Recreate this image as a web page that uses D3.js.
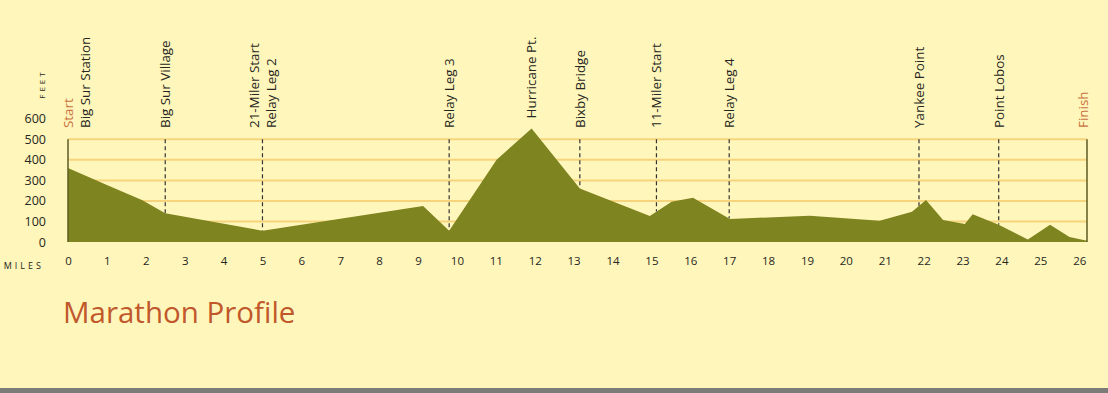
<!DOCTYPE html>
<html>
<head>
<meta charset="utf-8">
<script src="https://cdn.jsdelivr.net/npm/d3@7"></script>
<style>
  html, body { margin: 0; padding: 0; background: #fff6bb; }
  #chart { width: 1108px; height: 393px; overflow: hidden; }
  text { font-family: "Open Sans", Roboto, sans-serif; }
</style>
</head>
<body>
<div id="chart"></div>
<script>
// データ
const miles = [0, 1, 1.9, 2.5, 5.0, 9.13, 9.8, 11.02, 11.92, 13.16, 14.96, 15.52, 16.07, 17.02, 19.07, 20.87, 21.7, 22.06, 22.5, 23.06, 23.26, 23.93, 24.68, 25.25, 25.75, 26.2];
const elevation = [360, 278, 204, 140, 55, 175, 55, 400, 553, 261, 127, 196, 216, 112, 128, 104, 147, 204, 107, 88, 135, 84, 12, 84, 24, 6];

const waypointMiles = [2.5, 5.0, 9.8, 11.92, 13.16, 15.13, 17.0, 21.88, 23.93];
const waypointNames = [["Big Sur Village"], ["21-Miler Start", "Relay Leg 2"], ["Relay Leg 3"], ["Hurricane Pt."],
  ["Bixby Bridge"], ["11-Miler Start"], ["Relay Leg 4"], ["Yankee Point"], ["Point Lobos"]];
const dashedWaypoints = [true, true, true, false, true, true, true, true, true];

const mileTicks = d3.range(0, 27);
const feetTicks = [0, 100, 200, 300, 400, 500, 600];
const gridFeet = [100, 200, 300, 400, 500];
const raceLength = 26.2;

// 設定
const W = 1108, H = 393;
const colors = { fill: "#7e8420", grid: "#f6d47c", text: "#262622", accent: "#c96f3e", title: "#c0582b", edge: "#5e5a22" };
const labelSize = 13.4;

const svg = d3.select("#chart").append("svg")
    .attr("width", W)
    .attr("height", H);

svg.append("rect").attr("width", W).attr("height", H).attr("fill", "#fff6bb");
svg.append("rect").attr("x", 0).attr("y", 388).attr("width", W).attr("height", 5).attr("fill", "#7b7b78");

const x = d3.scaleLinear().domain([0, raceLength]).range([68, 1087]);
const y = d3.scaleLinear().domain([0, 500]).range([242, 139.3]);

const profile = miles.map((m, i) => ({ mile: m, elev: elevation[i] }));
const elevAt = m => {
    const i = d3.bisector(d => d.mile).left(profile, m);
    if (i <= 0) return profile[0].elev;
    if (i >= profile.length) return profile[profile.length - 1].elev;
    const a = profile[i - 1], b = profile[i];
    return a.elev + (b.elev - a.elev) * (m - a.mile) / (b.mile - a.mile);
};

// グリッド線
svg.append("g").selectAll("line")
    .data(gridFeet)
    .join("line")
    .attr("x1", x(0)).attr("x2", x(raceLength))
    .attr("y1", d => y(d)).attr("y2", d => y(d))
    .attr("stroke", colors.grid)
    .attr("stroke-width", 2);

// 破線（地点）
svg.append("g").selectAll("line")
    .data(waypointMiles.filter((m, i) => dashedWaypoints[i]))
    .join("line")
    .attr("x1", d => x(d)).attr("x2", d => x(d))
    .attr("y1", y(500)).attr("y2", d => y(elevAt(d)))
    .attr("stroke", "#333")
    .attr("stroke-width", 1.2)
    .attr("stroke-dasharray", "4,3");

// 標高プロファイル
const area = d3.area()
    .x(d => x(d.mile))
    .y0(y(0))
    .y1(d => y(d.elev));

svg.append("path")
    .datum(profile)
    .attr("fill", colors.fill)
    .attr("d", area);

// スタート・フィニッシュの縦線
svg.append("g").selectAll("line")
    .data([0, raceLength])
    .join("line")
    .attr("x1", d => x(d)).attr("x2", d => x(d))
    .attr("y1", y(500)).attr("y2", y(0))
    .attr("stroke", colors.edge)
    .attr("stroke-width", 1.5);

// Y軸
const yAxis = svg.append("g")
    .attr("transform", "translate(46,0)")
    .call(d3.axisLeft(y.copy().domain([0, 600]).range([242, 118.8])).tickValues(feetTicks).tickSize(0).tickPadding(0));
yAxis.select(".domain").remove();
yAxis.selectAll("text").attr("font-size", 12.5).attr("fill", colors.text).attr("font-family", "'Open Sans', sans-serif");

// X軸
const xAxis = svg.append("g")
    .attr("transform", "translate(0,257)")
    .call(d3.axisBottom(x).tickValues(mileTicks).tickFormat(d3.format("d")).tickSize(0).tickPadding(0));
xAxis.select(".domain").remove();
xAxis.selectAll("text").attr("font-size", 11.5).attr("fill", colors.text).attr("font-family", "'Open Sans', sans-serif");

// 軸タイトル
svg.append("text")
    .attr("transform", "translate(45,84) rotate(-90)")
    .attr("text-anchor", "middle")
    .attr("font-size", 8)
    .attr("letter-spacing", 3)
    .attr("fill", colors.text)
    .text("FEET");

svg.append("text")
    .attr("x", 44).attr("y", 268.5)
    .attr("text-anchor", "end")
    .attr("font-size", 9)
    .attr("letter-spacing", 3)
    .attr("fill", colors.text)
    .text("MILES");

// 地点ラベル
const labelBase = m => Math.min(128, y(elevAt(m)) - 10);
const lineGap = 17;

waypointMiles.forEach((m, i) => {
    const lines = waypointNames[i];
    lines.forEach((t, j) => {
        const cx = x(m) + (j - (lines.length - 1) / 2) * lineGap;
        svg.append("text")
            .attr("transform", `translate(${cx},${labelBase(m)}) rotate(-90)`)
            .attr("dy", "0.36em")
            .attr("font-size", labelSize)
            .attr("fill", colors.text)
            .text(t);
    });
});

// Start / Finish
svg.append("text")
    .attr("transform", `translate(${x(0)},128) rotate(-90)`)
    .attr("dy", "0.36em")
    .attr("font-size", labelSize)
    .attr("fill", colors.accent)
    .text("Start");
svg.append("text")
    .attr("transform", `translate(${x(0) + lineGap},128) rotate(-90)`)
    .attr("dy", "0.36em")
    .attr("font-size", labelSize)
    .attr("fill", colors.text)
    .text("Big Sur Station");
svg.append("text")
    .attr("transform", `translate(${x(raceLength) - 4},128) rotate(-90)`)
    .attr("dy", "0.36em")
    .attr("font-size", labelSize)
    .attr("fill", colors.accent)
    .text("Finish");

// タイトル
svg.append("text")
    .attr("x", 63).attr("y", 323)
    .attr("font-size", 29.5)
    .attr("fill", colors.title)
    .text("Marathon Profile");
</script>
</body>
</html>
